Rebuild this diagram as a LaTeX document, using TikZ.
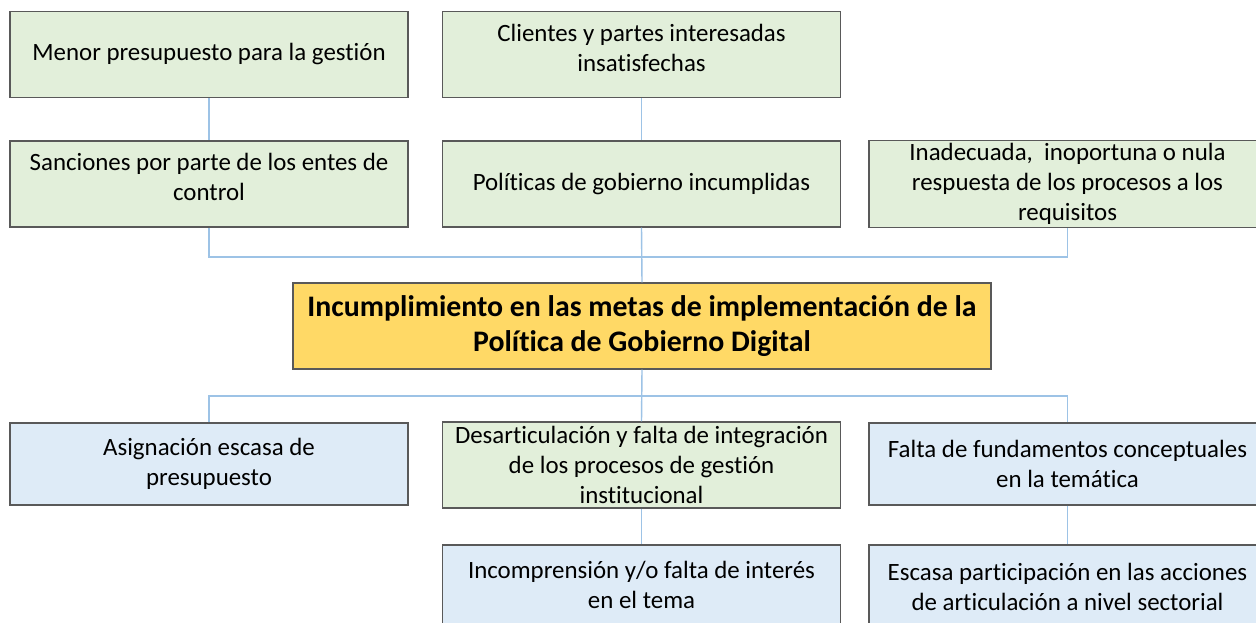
\documentclass[tikz,border=0pt]{standalone}
\usepackage{fontspec}
\setmainfont{Carlito}[Ligatures=NoCommon]
\usepackage{tikz}

\definecolor{efgreen}{HTML}{E2EFDA}
\definecolor{cablue}{HTML}{DEEBF7}
\definecolor{probyel}{HTML}{FFD966}
\definecolor{edgegray}{HTML}{595959}
\definecolor{linkblue}{HTML}{9DC3E6}

\tikzset{
  box/.style={draw=edgegray, line width=0.8pt, align=center, inner sep=2pt,
    minimum width=9.95cm, minimum height=2.15cm,
    font=\fontsize{17.7}{21.3}\selectfont},
  effect/.style={box, fill=efgreen},
  cause/.style={box, fill=cablue},
  problem/.style={box, fill=probyel, line width=1pt, minimum width=17.45cm,
    font=\fontsize{21.2}{24.9}\selectfont\bfseries},
  raised/.style={text depth=10pt},
  link/.style={draw=linkblue, line width=1pt}
}

\begin{document}
\begin{tikzpicture}[x=0.025cm, y=-0.025cm]
  \useasboundingbox (0,0) rectangle (1256,623);
  \fill[white] (0,0) rectangle (1256,623);

  % effects
  \node[effect] at (209,54.5) (M) {Menor presupuesto para la gestión};
  \node[effect, raised] at (641.5,54.5) (C) {Clientes y partes interesadas\\insatisfechas};
  \node[effect, raised] at (209,184) (S) {Sanciones por parte de los entes de\\control};
  \node[effect] at (641.5,184) (P) {Políticas de gobierno incumplidas};
  \node[effect, minimum width=9.925cm] at (1067.5,184) (R) {Inadecuada,\ \ inoportuna o nula\\respuesta de los procesos a los\\requisitos};

  % central problem
  \node[problem] at (642,326) (X) {Incumplimiento en las metas de implementación de la\\Política de Gobierno Digital};

  % causes
  \node[cause, minimum height=2.05cm] at (209,464) (A) {Asignación escasa de\\presupuesto};
  \node[effect] at (641.5,465) (D) {Desarticulación y falta de integración\\de los procesos de gestión\\institucional};
  \node[cause, minimum width=9.925cm, minimum height=2.05cm] at (1067.5,464) (F) {Falta de fundamentos conceptuales\\en la temática};
  \node[cause, minimum height=2cm] at (641.5,585) (I) {Incomprensión y/o falta de interés\\en el tema};
  \node[cause, minimum width=9.925cm, minimum height=2.1cm] at (1067.5,587) (E) {Escasa participación en las acciones\\de articulación a nivel sectorial};

  \coordinate (top) at (642,257);
  \coordinate (bot) at (642,396);

  \draw[link] (M) -- (S);
  \draw[link] (C) -- (P);
  \draw[link] (S.south) |- (top) -| (R.south);
  \draw[link] (P.south) -- (X.north);
  \draw[link] (A.north) |- (bot) -| (F.north);
  \draw[link] (X.south) -- (D.north);
  \draw[link] (D) -- (I);
  \draw[link] (F) -- (E);
\end{tikzpicture}
\end{document}
